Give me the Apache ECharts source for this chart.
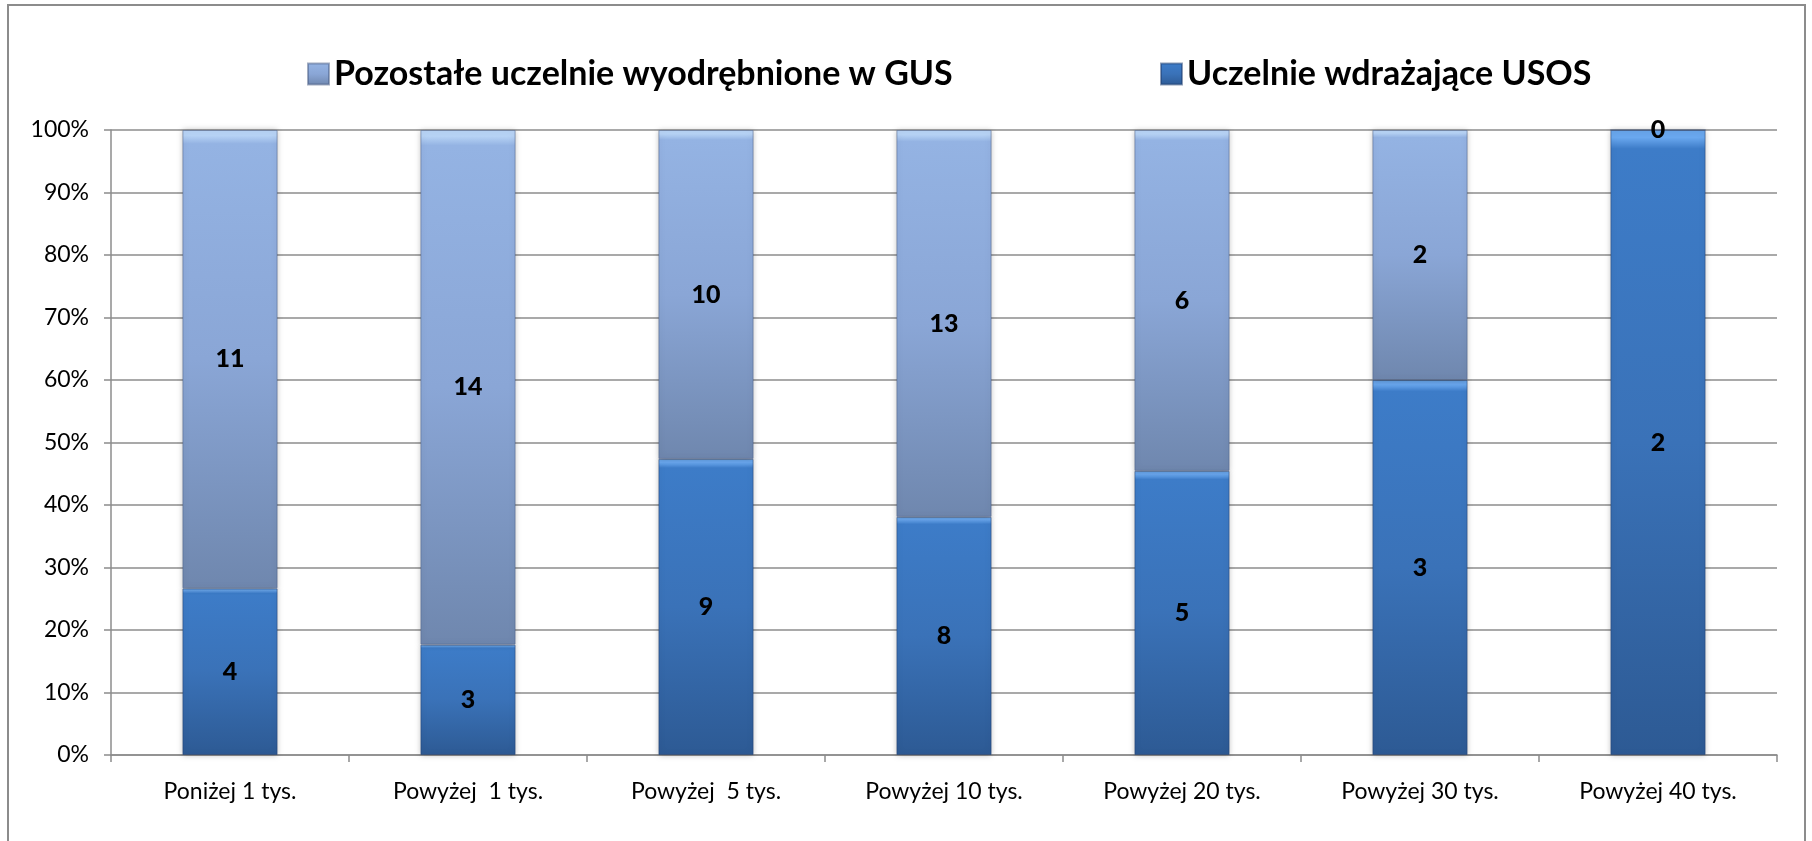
<!DOCTYPE html>
<html>
<head>
<meta charset="utf-8">
<script src="https://cdn.jsdelivr.net/npm/echarts@6/dist/echarts.min.js"></script>
<style>
  html, body { margin: 0; padding: 0; background: #fff; }
  #chart { width: 1812px; height: 841px; }
</style>
</head>
<body>
<div id="chart"></div>
<script>
const categories = ['Poniżej 1 tys.', 'Powyżej  1 tys.', 'Powyżej  5 tys.', 'Powyżej 10 tys.', 'Powyżej 20 tys.', 'Powyżej 30 tys.', 'Powyżej 40 tys.'];
const usosName = 'Uczelnie wdrażające USOS';
const otherName = 'Pozostałe uczelnie wyodrębnione w GUS';
// liczba uczelni w każdej grupie
const usosCounts = [4, 3, 9, 8, 5, 3, 2];
const otherCounts = [11, 14, 10, 13, 6, 2, 0];
const yTicks = ['0%', '10%', '20%', '30%', '40%', '50%', '60%', '70%', '80%', '90%', '100%'];

// udział procentowy (wykres 100% skumulowany)
const usosPct = usosCounts.map((v, i) => v / (v + otherCounts[i]) * 100);
const otherPct = otherCounts.map((v, i) => v / (usosCounts[i] + v) * 100);

function grad(top, mid, bottom, hi) {
  return new echarts.graphic.LinearGradient(0, 0, 0, 1, [
    { offset: 0, color: hi },
    { offset: 0.012, color: hi },
    { offset: 0.03, color: top },
    { offset: 0.5, color: mid },
    { offset: 1, color: bottom }
  ]);
}

const labelStyle = {
  show: true,
  position: 'inside',
  color: '#000',
  fontWeight: 900,
  fontSize: 25,
  fontFamily: 'Lato'
};

const chart = echarts.init(document.getElementById('chart'));
chart.setOption({
  animation: false,
  textStyle: { fontFamily: 'Lato' },
  graphic: [{
    type: 'rect',
    shape: { x: 8, y: 5, width: 1797, height: 850 },
    style: { fill: 'none', stroke: '#8c8c8c', lineWidth: 2 },
    silent: true
  }],
  legend: [
    {
      data: [otherName],
      left: 302,
      top: 52,
      icon: 'rect',
      itemWidth: 21,
      itemHeight: 21,
      itemGap: 6,
      itemStyle: { color: grad('#94b3e3', '#8aa6d6', '#6f87ae', '#b7d3f5') },
      textStyle: { fontSize: 34, fontWeight: 'bold', color: '#000', fontFamily: 'Lato' }
    },
    {
      data: [usosName],
      left: 1155,
      top: 52,
      icon: 'rect',
      itemWidth: 21,
      itemHeight: 21,
      itemStyle: { color: grad('#3d7cc8', '#3a72b8', '#2d5a94', '#6aa8ef') },
      textStyle: { fontSize: 34, fontWeight: 'bold', color: '#000', fontFamily: 'Lato' }
    }
  ],
  grid: { left: 111, right: 35, top: 130, bottom: 86 },
  xAxis: {
    type: 'category',
    data: categories,
    axisLine: { lineStyle: { color: '#8c8c8c', width: 1.5 } },
    axisTick: { show: true, length: 7, lineStyle: { color: '#8c8c8c', width: 1.5 } },
    axisLabel: { color: '#000', fontSize: 23, margin: 25, fontFamily: 'Lato', interval: 0 }
  },
  yAxis: {
    type: 'value',
    min: 0,
    max: 100,
    interval: 10,
    axisLine: { show: true, lineStyle: { color: '#8c8c8c', width: 1.5 } },
    axisTick: { show: true, length: 7, lineStyle: { color: '#8c8c8c', width: 1.5 } },
    splitLine: { lineStyle: { color: '#8c8c8c', width: 1.5 } },
    axisLabel: {
      color: '#000',
      fontSize: 23,
      margin: 22,
      fontFamily: 'Lato',
      formatter: (v) => yTicks[Math.round(v / 10)]
    }
  },
  series: [
    {
      name: usosName,
      type: 'bar',
      stack: 'total',
      barWidth: '40%',
      data: usosPct,
      itemStyle: {
        color: grad('#3d7cc8', '#3a72b8', '#2d5a94', '#6aa8ef'),
        borderColor: 'rgba(30,60,110,0.5)',
        borderWidth: 1,
        shadowColor: 'rgba(0,0,0,0.25)',
        shadowBlur: 6
      },
      label: Object.assign({}, labelStyle, {
        formatter: (p) => usosCounts[p.dataIndex]
      })
    },
    {
      name: otherName,
      type: 'bar',
      stack: 'total',
      barWidth: '40%',
      data: otherPct,
      itemStyle: {
        color: grad('#94b3e3', '#8aa6d6', '#6f87ae', '#b7d3f5'),
        borderColor: 'rgba(70,90,130,0.5)',
        borderWidth: 1,
        shadowColor: 'rgba(0,0,0,0.25)',
        shadowBlur: 6
      },
      label: Object.assign({}, labelStyle, {
        formatter: (p) => otherCounts[p.dataIndex]
      })
    }
  ]
});
</script>
</body>
</html>
